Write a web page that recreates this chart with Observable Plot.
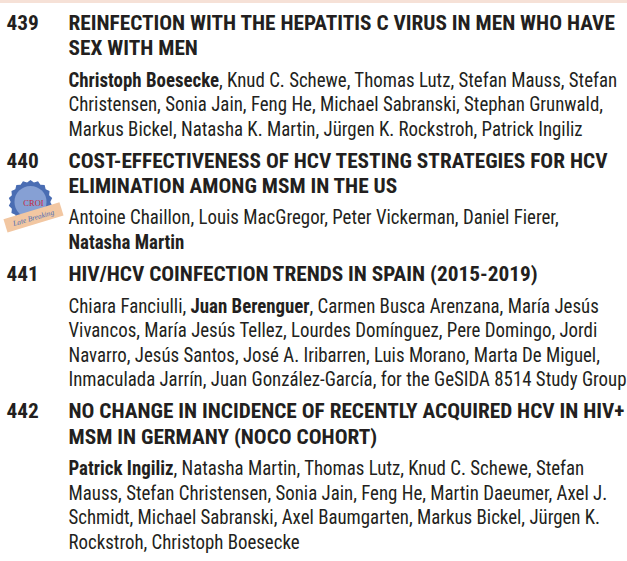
<!DOCTYPE html>
<html><head><meta charset="utf-8">
<script src="https://cdn.jsdelivr.net/npm/d3@7"></script>
<script src="https://cdn.jsdelivr.net/npm/@observablehq/plot@0.6"></script>
<style>
html,body{margin:0;padding:0;background:#fff;}
#band{height:3px;background:#f6e1d7;}
#chart svg{display:block;}
</style></head><body>
<div id="band"></div>
<div id="chart"></div>
<script>
// ---- data ----
const abstractNumbers = ["439", "440", "441", "442"];
const titles439 = ["REINFECTION WITH THE HEPATITIS C VIRUS IN MEN WHO HAVE", "SEX WITH MEN"];
const titles440 = ["COST-EFFECTIVENESS OF HCV TESTING STRATEGIES FOR HCV", "ELIMINATION AMONG MSM IN THE US"];
const titles441 = ["HIV/HCV COINFECTION TRENDS IN SPAIN (2015-2019)"];
const titles442 = ["NO CHANGE IN INCIDENCE OF RECENTLY ACQUIRED HCV IN HIV+", "MSM IN GERMANY (NOCO COHORT)"];
const authors439 = [
  "**Christoph Boesecke**, Knud C. Schewe, Thomas Lutz, Stefan Mauss, Stefan",
  "Christensen, Sonia Jain, Feng He, Michael Sabranski, Stephan Grunwald,",
  "Markus Bickel, Natasha K. Martin, Jürgen K. Rockstroh, Patrick Ingiliz"];
const authors440 = [
  "Antoine Chaillon, Louis MacGregor, Peter Vickerman, Daniel Fierer,",
  "**Natasha Martin**"];
const authors441 = [
  "Chiara Fanciulli, **Juan Berenguer**, Carmen Busca Arenzana, María Jesús",
  "Vivancos, María Jesús Tellez, Lourdes Domínguez, Pere Domingo, Jordi",
  "Navarro, Jesús Santos, José A. Iribarren, Luis Morano, Marta De Miguel,",
  "Inmaculada Jarrín, Juan González-García, for the GeSIDA 8514 Study Group"];
const authors442 = [
  "**Patrick Ingiliz**, Natasha Martin, Thomas Lutz, Knud C. Schewe, Stefan",
  "Mauss, Stefan Christensen, Sonia Jain, Feng He, Martin Daeumer, Axel J.",
  "Schmidt, Michael Sabranski, Axel Baumgarten, Markus Bickel, Jürgen K.",
  "Rockstroh, Christoph Boesecke"];
const lateBreaking = ["440"];
const badgeLabel = "CROI";
const ribbonLabel = "Late Breaking";

const abstractTitles = [titles439, titles440, titles441, titles442];
const abstractAuthors = [authors439, authors440, authors441, authors442];

// ---- layout ----
const FONT = '"Liberation Sans Narrow", "Arial Narrow", "Roboto Condensed", Roboto, sans-serif';
const INK = "#231f20";
const NUM_X = 6, TEXT_X = 68;
const FIRST = 26.3, TITLE_PITCH = 25.2, AUTHOR_PITCH = 24.6, GAP_TA = 31.5, GAP_AT = 32;

const rows = [];
const badges = [];
let y = FIRST;
abstractNumbers.forEach((num, i) => {
  if (i > 0) y += GAP_AT;
  rows.push({kind: "number", x: NUM_X, y, text: num});
  abstractTitles[i].forEach((t, j) => {
    if (j > 0) y += TITLE_PITCH;
    rows.push({kind: "title", x: TEXT_X, y, text: t});
  });
  if (lateBreaking.includes(num)) badges.push({cx: NUM_X + 24, cy: y + 9});
  y += GAP_TA;
  abstractAuthors[i].forEach((t, j) => {
    if (j > 0) y += AUTHOR_PITCH;
    rows.push({kind: "author", x: TEXT_X, y, text: t});
  });
});

const gear = {
  draw(context, size) {
    const R = Math.sqrt(size / Math.PI), n = 18;
    for (let i = 0; i <= n * 2; i++) {
      const a = (i / (n * 2)) * 2 * Math.PI;
      const r = i % 2 ? R * 0.9 : R;
      const px = r * Math.sin(a), py = -r * Math.cos(a);
      if (i === 0) context.moveTo(px, py); else context.lineTo(px, py);
    }
    context.closePath();
  }
};

const plot = Plot.plot({
  width: 627, height: 558, margin: 0,
  x: {type: "identity"}, y: {type: "identity"},
  style: {fontFamily: FONT, color: INK, background: "#fff"},
  marks: [
    Plot.text(rows.filter(d => d.kind === "number"), {x: "x", y: "y", text: "text", textAnchor: "start", lineAnchor: "bottom", fontSize: 21, fontWeight: 700, fill: INK}),
    Plot.text(rows.filter(d => d.kind === "title"), {x: "x", y: "y", text: "text", textAnchor: "start", lineAnchor: "bottom", fontSize: 21, fontWeight: 700, fill: INK}),
    Plot.text(rows.filter(d => d.kind === "author"), {x: "x", y: "y", text: "text", textAnchor: "start", lineAnchor: "bottom", fontSize: 20, fontWeight: 400, fill: INK}),
    // late-breaking badge
    Plot.dot(badges, {x: "cx", y: "cy", r: 22, symbol: gear, fill: "#4a6db3"}),
    Plot.dot(badges, {x: "cx", y: "cy", r: 16, fill: "#86a0d4"}),
    Plot.text(badges, {x: d => d.cx + 3, y: d => d.cy + 4, text: () => badgeLabel, fontSize: 8.5, fill: "#c42a3c", fontFamily: '"Liberation Serif", serif', lineAnchor: "bottom"}),
    Plot.link(badges, {x1: d => d.cx - 25, y1: d => d.cy + 24, x2: d => d.cx + 31, y2: d => d.cy + 7, stroke: "#f2c7a2", strokeWidth: 14, strokeLinecap: "butt"}),
    Plot.text(badges, {x: d => d.cx + 3, y: d => d.cy + 16, text: () => ribbonLabel, rotate: -16, fontSize: 7.5, fontStyle: "italic", fill: "#4a6db3", fontFamily: '"Liberation Serif", serif'})
  ]
});
document.getElementById("chart").appendChild(plot);

// text mark groups in mark order: numbers, titles, authors, badge texts
const textGroups = [...plot.querySelectorAll('g[aria-label="text"]')];
const [gNumbers, gTitles, gAuthors] = textGroups;

// bold author names
const NS = "http://www.w3.org/2000/svg";
gAuthors.querySelectorAll("text").forEach(t => {
  const s = t.textContent;
  if (!s.includes("**")) return;
  while (t.firstChild) t.removeChild(t.firstChild);
  s.split("**").forEach((part, i) => {
    if (!part) return;
    const ts = document.createElementNS(NS, "tspan");
    ts.textContent = part;
    if (i % 2 === 1) ts.setAttribute("font-weight", "700");
    t.appendChild(ts);
  });
});

// condense horizontally to match the narrow typeface of the original
function condense(groups, refGroup, refText, right) {
  const ref = [...refGroup.querySelectorAll("text")].find(t => t.textContent === refText);
  if (!ref) return;
  const k = (right - TEXT_X) / ref.getComputedTextLength();
  groups.forEach(g => g.querySelectorAll("text").forEach(t => {
    const len = t.getComputedTextLength();
    t.setAttribute("textLength", (len * k).toFixed(2));
    t.setAttribute("lengthAdjust", "spacingAndGlyphs");
  }));
}
condense([gTitles, gNumbers], gTitles, titles442[0], 624);
condense([gAuthors], gAuthors, authors441[3], 626);

// express plain translations as x/y attributes
plot.querySelectorAll("text").forEach(t => {
  const m = /^translate\(([-\d.e]+),\s*([-\d.e]+)\)$/.exec(t.getAttribute("transform") || "");
  if (!m) return;
  t.removeAttribute("transform");
  t.setAttribute("x", m[1]);
  t.setAttribute("y", m[2]);
});
</script>
</body></html>
